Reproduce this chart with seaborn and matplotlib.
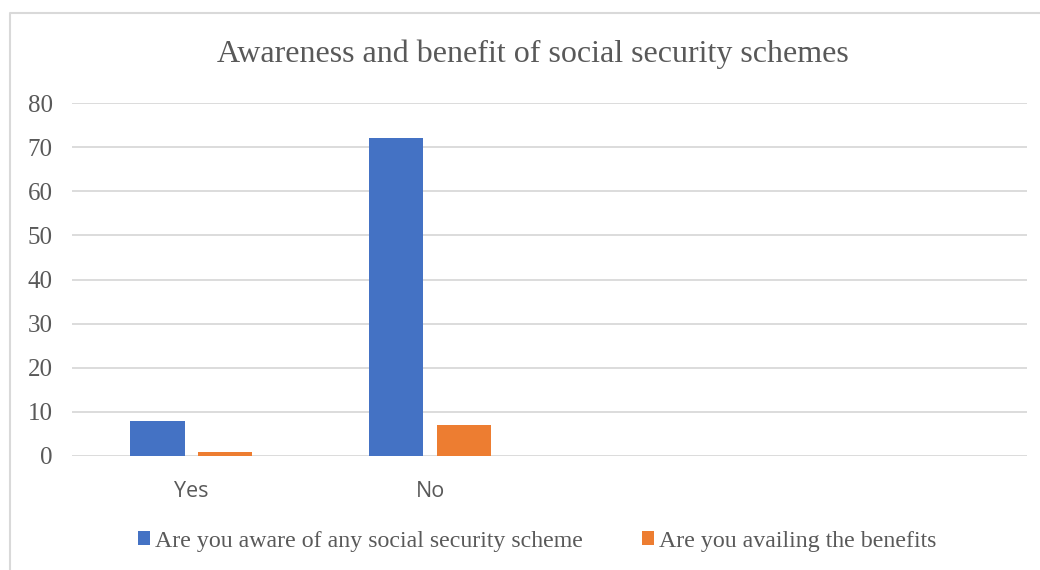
import pandas as pd
import matplotlib.pyplot as plt
import seaborn as sns
from matplotlib.lines import Line2D

answers = ['Yes', 'No']
slots = ['Yes', 'No', ' ', '  ']
aware = [8, 72]
availing = [1, 7]
series = ['Are you aware of any social security scheme', 'Are you availing the benefits']
colors = ['#4472C4', '#ED7D31']
title = 'Awareness and benefit of social security schemes'

GRAY = '#595959'
GRID = '#D9D9D9'


def main():
    df = pd.DataFrame({
        'answer': answers * 2,
        'count': aware + availing,
        'question': [series[0]] * 2 + [series[1]] * 2,
    })

    sns.set_style('white')
    plt.rcParams['font.family'] = ['Liberation Serif', 'DejaVu Serif']

    fig = plt.figure(figsize=(10.4, 5.7), dpi=100)
    ax = fig.add_axes([72 / 1040, 1 - 456 / 570, (1027 - 72) / 1040, (456 - 103) / 570])

    sns.barplot(data=df, x='answer', y='count', hue='question', order=slots,
                hue_order=series, palette=colors, width=0.567, gap=0.2,
                linewidth=0, saturation=1, ax=ax)

    handles = ax.legend_.legend_handles
    ax.legend_.remove()

    ax.set_ylim(0, 80)
    ax.set_yticks(range(0, 81, 10))
    ax.set_xlabel('')
    ax.set_ylabel('')
    ax.yaxis.grid(True, color=GRID, lw=1.3)
    ax.set_axisbelow(True)
    for s in ax.spines.values():
        s.set_visible(False)
    ax.tick_params(axis='y', length=0, pad=14, labelsize=18, labelcolor=GRAY)
    ax.tick_params(axis='x', length=0, pad=18, labelcolor=GRAY)
    for t in ax.get_xticklabels():
        t.set_fontfamily('Open Sans')
        t.set_fontsize(15.5)

    fig.text(533 / 1040, 1 - 54 / 570, title, ha='center', va='center',
             fontsize=23, color=GRAY)

    fig.legend(handles, series, loc='center', bbox_to_anchor=(537 / 1040, 1 - 541 / 570),
               ncol=2, frameon=False, fontsize=17.2, labelcolor=GRAY,
               handlelength=0.5, handleheight=0.5, handletextpad=0.2,
               columnspacing=2.5)

    # chart-area frame (top and left edges visible in the crop)
    fig.add_artist(Line2D([10 / 1040, 10 / 1040, 1], [0, 1 - 13 / 570, 1 - 13 / 570],
                          transform=fig.transFigure, color=GRID, lw=1.5))

    fig.savefig('out.png', dpi=100)


if __name__ == '__main__':
    main()
